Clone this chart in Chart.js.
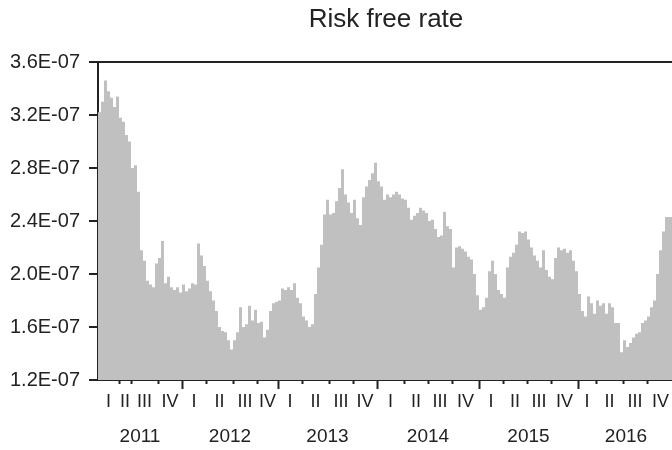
<!DOCTYPE html>
<html>
<head>
<meta charset="utf-8">
<title>Risk free rate</title>
<script src="https://cdn.jsdelivr.net/npm/chart.js@4.4.0/dist/chart.umd.min.js"></script>
<style>
  html, body { margin: 0; padding: 0; overflow: hidden; background: #fff; }
  #wrap { width: 772px; height: 450px; }
</style>
</head>
<body>
<div id="wrap"><canvas id="rateChart" width="772" height="450"></canvas></div>
<script>
// Risk free rate, in units of 1E-07, one value per observation step
const rateE7 = [
  3.24, 3.22, 3.30, 3.46, 3.38, 3.33, 3.26, 3.34, 3.18, 3.15, 3.05, 3.00,
  2.80, 2.82, 2.62, 2.18, 2.10, 1.95, 1.92, 1.90, 2.08, 2.12, 2.25, 1.93,
  1.98, 1.90, 1.88, 1.90, 1.86, 1.92, 1.87, 1.89, 1.93, 1.92, 2.23, 2.14,
  2.06, 1.95, 1.87, 1.80, 1.72, 1.60, 1.57, 1.56, 1.50, 1.43, 1.50, 1.56,
  1.75, 1.60, 1.62, 1.76, 1.65, 1.73, 1.63, 1.64, 1.52, 1.58, 1.72, 1.78,
  1.79, 1.80, 1.89, 1.88, 1.90, 1.88, 1.93, 1.82, 1.78, 1.68, 1.65, 1.60,
  1.62, 1.85, 2.05, 2.22, 2.45, 2.56, 2.45, 2.46, 2.55, 2.65, 2.79, 2.60,
  2.54, 2.46, 2.56, 2.42, 2.37, 2.58, 2.66, 2.71, 2.76, 2.84, 2.70, 2.66,
  2.56, 2.60, 2.58, 2.60, 2.62, 2.60, 2.57, 2.56, 2.50, 2.41, 2.44, 2.46,
  2.50, 2.48, 2.46, 2.40, 2.41, 2.34, 2.28, 2.29, 2.47, 2.36, 2.34, 2.05,
  2.20, 2.21, 2.19, 2.17, 2.13, 2.11, 2.00, 1.84, 1.73, 1.75, 1.82, 2.02,
  2.10, 2.00, 1.88, 1.85, 1.82, 2.05, 2.13, 2.16, 2.22, 2.32, 2.31, 2.32,
  2.26, 2.20, 2.14, 2.10, 2.05, 2.18, 2.03, 1.98, 1.96, 2.12, 2.20, 2.18,
  2.19, 2.16, 2.18, 2.10, 2.02, 1.85, 1.72, 1.68, 1.83, 1.78, 1.70, 1.80,
  1.76, 1.78, 1.70, 1.78, 1.75, 1.63, 1.63, 1.41, 1.50, 1.45, 1.48, 1.52,
  1.55, 1.56, 1.63, 1.65, 1.68, 1.75, 1.80, 2.00, 2.18, 2.32, 2.43, 2.43
];

// observation index where each quarter begins (four per year)
const quarterStarts = [
  0, 7, 11, 20,
  28, 36, 45, 53,
  60, 68, 77, 85,
  93, 102, 110, 118,
  127, 135, 143, 151,
  160, 166, 175, 183
];
const quarterNames = ['I', 'II', 'III', 'IV'];
const years = ['2011', '2012', '2013', '2014', '2015', '2016'];
const chartTitle = 'Risk free rate';

const FONT = '"Liberation Sans", Arial, sans-serif';
const INK = '#222';

const points = rateE7.map((v, i) => ({ x: i, y: v }));
// hold the last value to the end of its step
points.push({ x: rateE7.length, y: rateE7[rateE7.length - 1] });

// title over the frame, top frame line, quarter ticks, Roman numerals and years
const periodAxis = {
  id: 'periodAxis',
  afterDraw(chart) {
    const { ctx, chartArea: area, scales: { x } } = chart;
    const end = rateE7.length;
    ctx.save();
    ctx.fillStyle = INK;
    ctx.textAlign = 'center';
    ctx.textBaseline = 'middle';
    ctx.font = '26px ' + FONT;
    ctx.fillText(chartTitle, (area.left + area.right) / 2, 20);

    ctx.strokeStyle = INK;
    ctx.lineWidth = 2;
    ctx.beginPath();
    ctx.moveTo(area.left - 1, area.top);
    ctx.lineTo(area.right, area.top);
    ctx.stroke();

    quarterStarts.forEach((q, i) => {
      if (i === 0) return;
      const px = Math.round(x.getPixelForValue(q)) + 0.5;
      const len = i % 4 === 0 ? 9 : 4;
      ctx.beginPath();
      ctx.moveTo(px, area.bottom);
      ctx.lineTo(px, area.bottom + len);
      ctx.stroke();
    });

    ctx.font = '18px ' + FONT;
    quarterStarts.forEach((q, i) => {
      const next = i + 1 < quarterStarts.length ? quarterStarts[i + 1] : end;
      const cx = (x.getPixelForValue(q) + x.getPixelForValue(next)) / 2;
      ctx.fillText(quarterNames[i % 4], cx, area.bottom + 22);
    });

    ctx.font = '19px ' + FONT;
    years.forEach((y, k) => {
      const a = quarterStarts[k * 4];
      const b = k + 1 < years.length ? quarterStarts[(k + 1) * 4] : end;
      const cx = (x.getPixelForValue(a) + x.getPixelForValue(b)) / 2;
      ctx.fillText(y, cx, area.bottom + 57);
    });
    ctx.restore();
  }
};

new Chart(document.getElementById('rateChart'), {
  type: 'line',
  data: {
    datasets: [{
      label: chartTitle,
      data: points,
      stepped: 'after',
      fill: 'start',
      backgroundColor: '#c0c0c0',
      borderWidth: 0,
      pointRadius: 0
    }]
  },
  options: {
    responsive: false,
    animation: false,
    layout: { padding: { left: 0, right: 98, top: 62, bottom: 0 } },
    plugins: {
      legend: { display: false },
      tooltip: { enabled: false },
      title: { display: false }
    },
    scales: {
      x: {
        type: 'linear',
        min: 0,
        max: rateE7.length,
        ticks: { display: false },
        grid: { display: false },
        border: { display: true, color: INK, width: 2 },
        afterFit: s => { s.height = 70; }
      },
      y: {
        min: 1.2,
        max: 3.6,
        ticks: {
          stepSize: 0.4,
          padding: 9,
          color: INK,
          font: { family: FONT, size: 20 },
          callback: v => v.toFixed(1) + 'E-07'
        },
        grid: { drawOnChartArea: false, tickLength: 9, color: INK, lineWidth: 2 },
        border: { display: true, color: INK, width: 2 },
        afterFit: s => { s.width = 98; }
      }
    }
  },
  plugins: [periodAxis]
});
</script>
</body>
</html>
